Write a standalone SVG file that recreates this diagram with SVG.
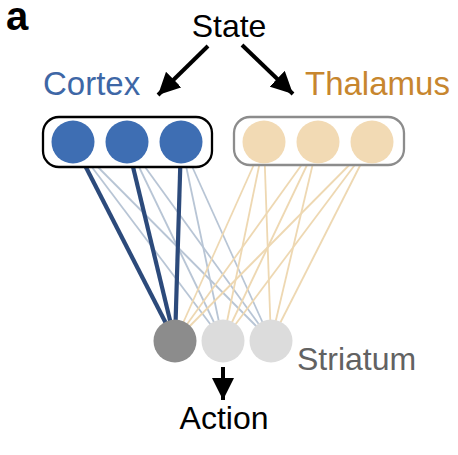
<svg xmlns="http://www.w3.org/2000/svg" width="458" height="455" viewBox="0 0 458 455">
<style>
text{font-family:"Liberation Sans",Arial,Helvetica,sans-serif;font-size:32px}
.thick{stroke:#2c4a7b;stroke-width:4.2;fill:none}
.ctx{stroke:#b8c5d5;stroke-width:1.8;fill:none}
.thl{stroke:#eed8b2;stroke-width:1.8;fill:none}
.arr{stroke:#000;stroke-width:4;fill:none}
.cc{fill:#3e6eb3}
.tc{fill:#f2dab4}
</style>
<defs>
<marker id="ah" viewBox="0 0 10 10" refX="10" refY="5" markerWidth="5.5" markerHeight="5.5" markerUnits="strokeWidth" orient="auto">
<path d="M0,0 L10,5 L0,10 z" fill="#000"/>
</marker>
</defs>
<rect width="458" height="455" fill="#fff"/>
<g id="connectors">
<line class="ctx" x1="73" y1="142" x2="223" y2="341"/>
<line class="ctx" x1="73" y1="142" x2="271" y2="341"/>
<line class="ctx" x1="127" y1="142" x2="223" y2="341"/>
<line class="ctx" x1="127" y1="142" x2="271" y2="341"/>
<line class="ctx" x1="181" y1="142" x2="223" y2="341"/>
<line class="ctx" x1="181" y1="142" x2="271" y2="341"/>
<line class="thl" x1="264" y1="142" x2="175" y2="341"/>
<line class="thl" x1="264" y1="142" x2="223" y2="341"/>
<line class="thl" x1="264" y1="142" x2="271" y2="341"/>
<line class="thl" x1="318" y1="142" x2="175" y2="341"/>
<line class="thl" x1="318" y1="142" x2="223" y2="341"/>
<line class="thl" x1="318" y1="142" x2="271" y2="341"/>
<line class="thl" x1="372" y1="142" x2="175" y2="341"/>
<line class="thl" x1="372" y1="142" x2="223" y2="341"/>
<line class="thl" x1="372" y1="142" x2="271" y2="341"/>
<line class="thick" x1="73" y1="142" x2="175" y2="341"/>
<line class="thick" x1="127" y1="142" x2="175" y2="341"/>
<line class="thick" x1="181" y1="142" x2="175" y2="341"/>
<line class="arr" x1="208" y1="46" x2="158" y2="95" marker-end="url(#ah)"/>
<line class="arr" x1="242" y1="45" x2="293" y2="94" marker-end="url(#ah)"/>
<line class="arr" x1="223" y1="367" x2="223" y2="400" marker-end="url(#ah)"/>
</g>
<g id="label-a"><text x="6" y="30" style="font-weight:bold;font-size:40px">a</text></g>
<g id="state"><text x="229" y="37" text-anchor="middle">State</text></g>
<g id="cortex">
<text x="43" y="95" fill="#3e67a6" style="font-size:33px">Cortex</text>
<rect x="43" y="117" width="169" height="50" rx="16" fill="#fff" stroke="#000" stroke-width="2.3"/>
<circle class="cc" cx="73" cy="142" r="21.5"/>
<circle class="cc" cx="127" cy="142" r="21.5"/>
<circle class="cc" cx="181" cy="142" r="21.5"/>
</g>
<g id="thalamus">
<text x="305" y="95" fill="#c7862e" style="font-size:33px">Thalamus</text>
<rect x="234" y="117" width="170" height="48" rx="16" fill="#fff" stroke="#8c8c8c" stroke-width="2.3"/>
<circle class="tc" cx="264" cy="142" r="21.5"/>
<circle class="tc" cx="318" cy="142" r="21.5"/>
<circle class="tc" cx="372" cy="142" r="21.5"/>
</g>
<g id="striatum">
<circle cx="175" cy="341" r="21.5" fill="#8c8c8c"/>
<circle cx="223" cy="341" r="21.5" fill="#dcdcdc"/>
<circle cx="271" cy="341" r="21.5" fill="#dcdcdc"/>
<text x="297" y="370" fill="#626262">Striatum</text>
</g>
<g id="action"><text x="224" y="429" text-anchor="middle">Action</text></g>
</svg>
